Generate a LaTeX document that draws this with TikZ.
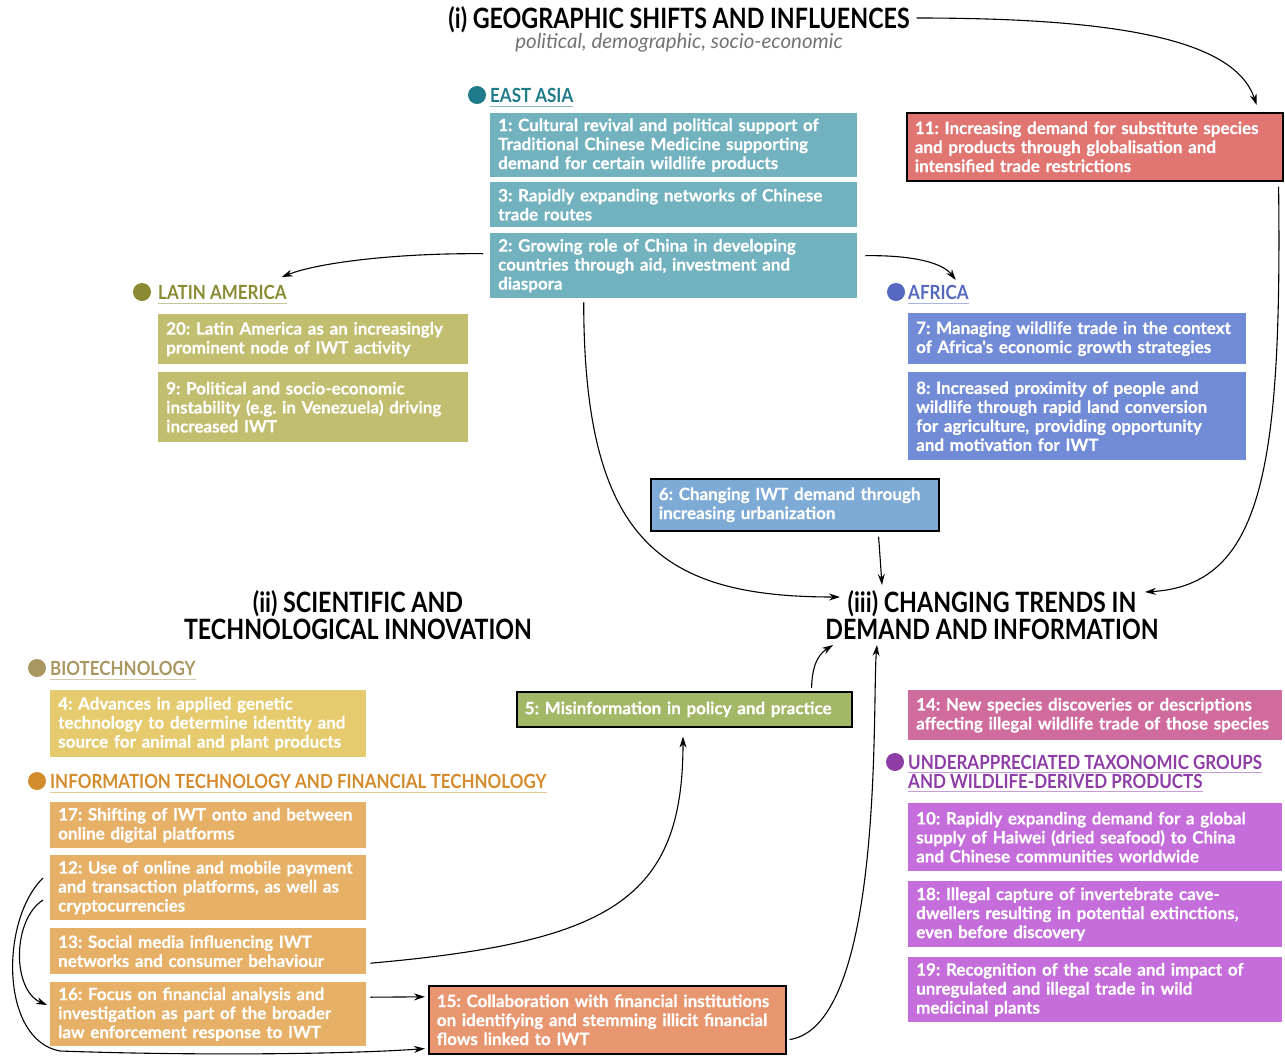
\documentclass[tikz,border=0pt]{standalone}
\usepackage{fontspec}
\setmainfont{Lato}
\newfontfamily\boxfont{Lato}[BoldFeatures={FakeBold=0.4}]
\newfontfamily\headfont[FakeStretch=0.83]{Lato}
\newfontfamily\catfont[FakeStretch=0.87]{Lato}
\usetikzlibrary{arrows.meta,calc}
\frenchspacing

\definecolor{eabox}{HTML}{72B2BF}
\definecolor{eadot}{HTML}{1F7A89}
\definecolor{labox}{HTML}{C2BE6F}
\definecolor{ladot}{HTML}{8A8A33}
\definecolor{afbox}{HTML}{718BD6}
\definecolor{afdot}{HTML}{5468C0}
\definecolor{redbox}{HTML}{E07571}
\definecolor{urbbox}{HTML}{7EAAD6}
\definecolor{biobox}{HTML}{E5CB6E}
\definecolor{biodot}{HTML}{A99660}
\definecolor{itbox}{HTML}{E7B067}
\definecolor{itdot}{HTML}{D48B2B}
\definecolor{misbox}{HTML}{A3B866}
\definecolor{finbox}{HTML}{E8966F}
\definecolor{spbox}{HTML}{D06B9E}
\definecolor{utbox}{HTML}{C56DDA}
\definecolor{utdot}{HTML}{8E3CA6}

\tikzset{
  item/.style={anchor=north west, inner xsep=8pt, inner ysep=2pt, align=left,
    text=white, font=\boxfont\fontsize{17}{19}\selectfont\bfseries},
  keyitem/.style={item, draw=black, line width=1.6pt},
  catlabel/.style={anchor=west, inner sep=0pt, font=\catfont\bfseries\fontsize{19.5}{19}\selectfont},
  heading/.style={align=center, inner sep=1pt, font=\headfont\bfseries\fontsize{28}{27}\selectfont},
  link/.style={-{Stealth[length=11pt,width=7pt]}, line width=1.1pt},
}

\begin{document}
\begin{tikzpicture}[x=1pt, y=-1pt]
        \useasboundingbox (0,0) rectangle (1285,1055);

        % headings
        \node[heading] (tgeo) at (679,20) {(i) GEOGRAPHIC SHIFTS AND INFLUENCES};
        \node[text=black!55, inner sep=1pt, font=\itshape\fontsize{20.5}{20}\selectfont] (tgeosub) at (679,43) {political, demographic, socio-economic};
        \node[heading] (tsci) at (358,615) {(ii) SCIENTIFIC AND\\TECHNOLOGICAL INNOVATION};
        \node[heading] (tdem) at (992,615) {(iii) CHANGING TRENDS IN\\DEMAND AND INFORMATION};

        % east asia
        \node[catlabel, text=eadot] (lea) at (490,95) {EAST ASIA};
        \fill[eadot] ($(lea.west)+(-13,0)$) circle (9pt);
        \draw[eadot!50, line width=0.8pt] ($(lea.south west)+(0,4)$) -- ($(lea.south east)+(0,4)$);
        \node[item, fill=eabox, text width=351pt, minimum height=64pt] (ea1) at (490,113) {1: Cultural revival and political support of\\Traditional Chinese Medicine supporting\\demand for certain wildlife products};
        \node[item, fill=eabox, text width=351pt, minimum height=45pt] (ea3) at (490,182) {3: Rapidly expanding networks of Chinese\\trade routes};
        \node[item, fill=eabox, text width=351pt, minimum height=65pt] (ea2) at (490,233) {2: Growing role of China in developing\\countries through aid, investment and\\diaspora};

        \node[keyitem, fill=redbox, text width=360pt, minimum height=68pt] (sub11) at (906,112) {11: Increasing demand for substitute species\\and products through globalisation and\\intensified trade restrictions};

        % latin america
        \node[catlabel, text=ladot] (lla) at (158,292) {LATIN AMERICA};
        \fill[ladot] ($(lla.west)+(-16,0)$) circle (9pt);
        \draw[ladot!50, line width=0.8pt] ($(lla.south west)+(0,4)$) -- ($(lla.south east)+(0,4)$);
        \node[item, fill=labox, text width=294pt, minimum height=50pt] (la20) at (158,314) {20: Latin America as an increasingly\\prominent node of IWT activity};
        \node[item, fill=labox, text width=294pt, minimum height=70pt] (la9) at (158,372) {9: Political and socio-economic\\instability (e.g. in Venezuela) driving\\increased IWT};

        % africa
        \node[catlabel, text=afdot] (laf) at (908,292) {AFRICA};
        \fill[afdot] ($(laf.west)+(-12,0)$) circle (9pt);
        \draw[afdot!50, line width=0.8pt] ($(laf.south west)+(0,4)$) -- ($(laf.south east)+(0,4)$);
        \node[item, fill=afbox, text width=322pt, minimum height=51pt] (af7) at (908,313) {7: Managing wildlife trade in the context\\of Africa's economic growth strategies};
        \node[item, fill=afbox, text width=322pt, minimum height=88pt] (af8) at (908,372) {8: Increased proximity of people and\\wildlife through rapid land conversion\\for agriculture, providing opportunity\\and motivation for IWT};

        \node[keyitem, fill=urbbox, text width=272pt, minimum height=52pt] (urb6) at (650,478) {6: Changing IWT demand through\\increasing urbanization};

        % biotechnology
        \node[catlabel, text=biodot] (lbio) at (50,668) {BIOTECHNOLOGY};
        \fill[biodot] ($(lbio.west)+(-13,0)$) circle (9pt);
        \draw[biodot!50, line width=0.8pt] ($(lbio.south west)+(0,4)$) -- ($(lbio.south east)+(0,4)$);
        \node[item, fill=biobox, text width=300pt, minimum height=67pt] (bio4) at (50,690) {4: Advances in applied genetic\\technology to determine identity and\\source for animal and plant products};

        % information and financial technology
        \node[catlabel, text=itdot] (lit) at (50,781) {INFORMATION TECHNOLOGY AND FINANCIAL TECHNOLOGY};
        \fill[itdot] ($(lit.west)+(-13,0)$) circle (9pt);
        \draw[itdot!50, line width=0.8pt] ($(lit.south west)+(0,4)$) -- ($(lit.south east)+(0,4)$);
        \node[item, fill=itbox, text width=300pt, minimum height=46pt] (it17) at (50,802) {17: Shifting of IWT onto and between\\online digital platforms};
        \node[item, fill=itbox, text width=300pt, minimum height=65pt] (it12) at (50,855) {12: Use of online and mobile payment\\and transaction platforms, as well as\\cryptocurrencies};
        \node[item, fill=itbox, text width=300pt, minimum height=46pt] (it13) at (50,928) {13: Social media influencing IWT\\networks and consumer behaviour};
        \node[item, fill=itbox, text width=300pt, minimum height=64pt] (it16) at (50,982) {16: Focus on financial analysis and\\investigation as part of the broader\\law enforcement response to IWT};

        \node[keyitem, fill=misbox, text width=319pt, minimum height=35pt] (mis5) at (516,691) {5: Misinformation in policy and practice};
        \node[keyitem, fill=finbox, text width=341pt, minimum height=68pt] (fin15) at (428,985) {15: Collaboration with financial institutions\\on identifying and stemming illicit financial\\flows linked to IWT};

        % right column
        \node[item, fill=spbox, text width=358pt, minimum height=50pt] (sp14) at (908,690) {14: New species discoveries or descriptions\\affecting illegal wildlife trade of those species};
        \node[catlabel, text=utdot] (lut1) at (908,762) {UNDERAPPRECIATED TAXONOMIC GROUPS};
        \node[catlabel, text=utdot] (lut2) at (908,781) {AND WILDLIFE-DERIVED PRODUCTS};
        \fill[utdot] ($(lut1.west)+(-13,0)$) circle (9pt);
        \draw[utdot!50, line width=0.8pt] ($(lut1.south west)+(0,3)$) -- ($(lut1.south east)+(0,3)$);
        \draw[utdot!50, line width=0.8pt] ($(lut2.south west)+(0,3)$) -- ($(lut2.south east)+(0,3)$);
        \node[item, fill=utbox, text width=358pt, minimum height=68pt] (ut10) at (908,803) {10: Rapidly expanding demand for a global\\supply of Haiwei (dried seafood) to China\\and Chinese communities worldwide};
        \node[item, fill=utbox, text width=358pt, minimum height=66pt] (ut18) at (908,881) {18: Illegal capture of invertebrate cave-\\dwellers resulting in potential extinctions,\\even before discovery};
        \node[item, fill=utbox, text width=358pt, minimum height=65pt] (ut19) at (908,957) {19: Recognition of the scale and impact of\\unregulated and illegal trade in wild\\medicinal plants};

        % connectors
        \draw[link] ($(tgeo.east)+(6,-2)$) .. controls (1120,18) and (1235,40) .. ($(sub11.north east)+(-27,-7)$);
        \draw[link] ($(sub11.south east)+(-5,5)$) .. controls (1282,470) and (1262,585) .. ($(tdem.center)+(153,-23)$);
        \draw[link] ($(ea2.west)+(-7,-12)$) .. controls (400,253) and (320,262) .. ($(lla.east)+(-5,-15)$);
        \draw[link] ($(ea2.east)+(8,-10)$) .. controls (910,255) and (942,262) .. ($(laf.east)+(-13,-12)$);
        \draw[link] ($(ea2.south)+(-90,4)$) .. controls (584,540) and (660,597) .. ($(tdem.center)+(-152,-18)$);
        \draw[link] ($(urb6.south east)+(-61,5)$) -- ($(tdem.center)+(-110,-30)$);
        \draw[link] ($(mis5.north east)+(-41,-3)$) .. controls (812,660) and (822,652) .. ($(tdem.center)+(-159,30)$);
        \draw[link] ($(fin15.south east)+(3,-15)$) .. controls (885,1025) and (872,700) .. ($(tdem.center)+(-115,30)$);
        \draw[link] ($(it13.east)+(4,12)$) .. controls (610,942) and (683,900) .. ($(mis5.south west)+(167,9)$);
        \draw[link] ($(it16.east)+(4,-17)$) -- ($(fin15.west)+(-3,-23)$);
        \draw[link] ($(it12.north west)+(-7,23)$) .. controls (0,920) and (0,1040) .. (60,1051) .. controls (200,1056) and (350,1054) .. ($(fin15.south west)+(-3,-6)$);
        \draw[link] ($(it12.north west)+(-7,45)$) .. controls (12,920) and (12,990) .. ($(it16.north west)+(-3,23)$);
\end{tikzpicture}
\end{document}
